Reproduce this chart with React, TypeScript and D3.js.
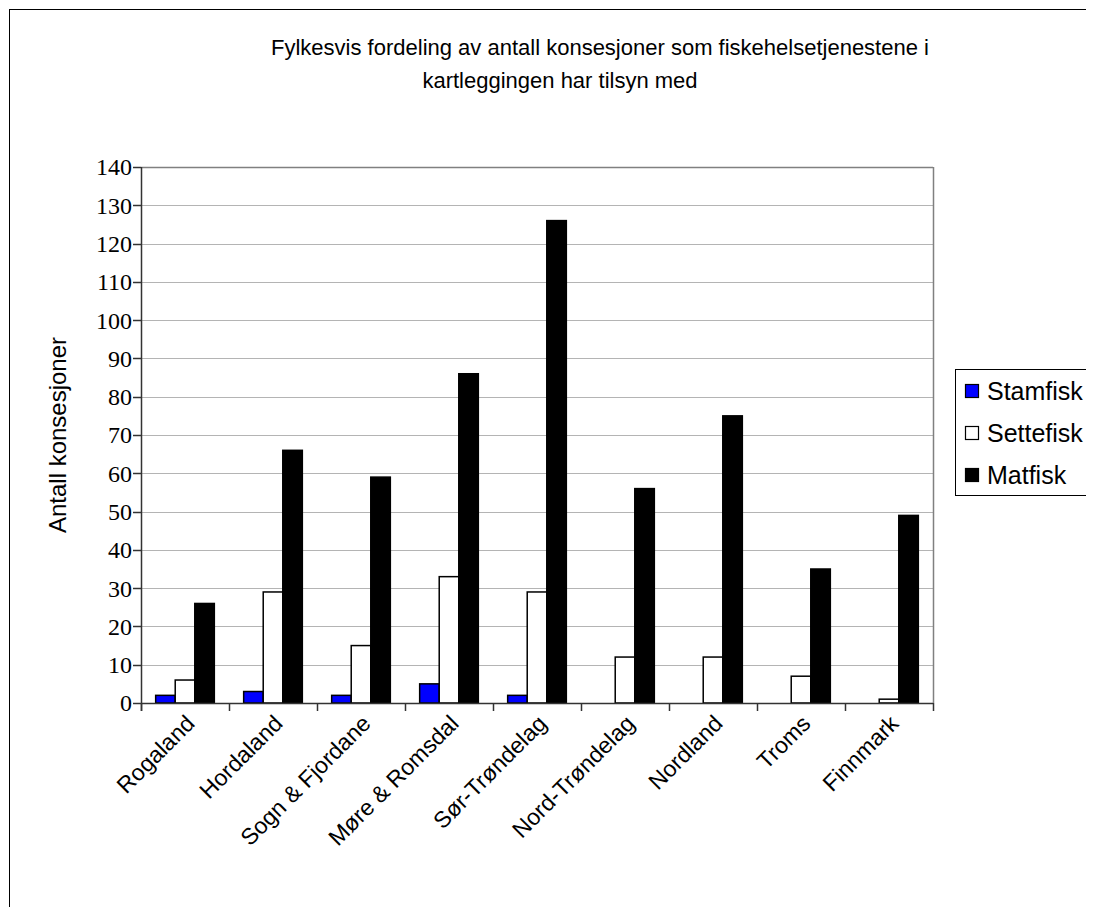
import React from "react";
import * as d3 from "d3";

const categories = [
  "Rogaland",
  "Hordaland",
  "Sogn & Fjordane",
  "Møre & Romsdal",
  "Sør-Trøndelag",
  "Nord-Trøndelag",
  "Nordland",
  "Troms",
  "Finnmark",
];
const seriesNames = ["Stamfisk", "Settefisk", "Matfisk"];
const stamfisk = [2, 3, 2, 5, 2, 0, 0, 0, 0];
const settefisk = [6, 29, 15, 33, 29, 12, 12, 7, 1];
const matfisk = [26, 66, 59, 86, 126, 56, 75, 35, 49];
const seriesColors = ["#0000FF", "#FFFFFF", "#000000"];
const yTicks = [0, 10, 20, 30, 40, 50, 60, 70, 80, 90, 100, 110, 120, 130, 140];
const titleLines = [
  "Fylkesvis fordeling av antall konsesjoner som fiskehelsetjenestene i",
  "kartleggingen har tilsyn med",
];
const yTitle = "Antall konsesjoner";

const seriesValues = [stamfisk, settefisk, matfisk];

export default function App() {
  const left = 141, right = 933, top = 167, bottom = 703;
  const x = d3.scaleBand<string>().domain(categories).range([left, right]).paddingInner(1 / 3).paddingOuter(1 / 6);
  const xs = d3.scaleBand<string>().domain(seriesNames).range([0, x.bandwidth()]).padding(0);
  const y = d3.scaleLinear().domain([0, 140]).range([bottom, top]);
  const step = x.step();
  const sans = "Arial, 'Liberation Sans', sans-serif";
  const serif = "'Times New Roman', 'Liberation Serif', serif";
  const titleX = [600, 560];

  return (
    <svg width={1086} height={899} style={{ display: "block" }}>
      <g transform="translate(-8,-8)">
        <rect x={8} y={8} width={1086} height={899} fill="#fff" />
        <line x1={9.5} y1={9} x2={9.5} y2={907} stroke="#000" strokeWidth={1} />
        <line x1={9} y1={9.5} x2={1094} y2={9.5} stroke="#000" strokeWidth={1} />
        {titleLines.map((t, i) => (
          <text key={i} x={titleX[i]} y={55 + i * 33} textAnchor="middle" fontFamily={sans} fontSize={22} fill="#000">
            {t}
          </text>
        ))}
        {/* gridlines */}
        {yTicks.filter((v) => v > 0 && v < 140).map((v) => (
          <line key={v} x1={left} x2={right} y1={Math.round(y(v)) + 0.5} y2={Math.round(y(v)) + 0.5} stroke="#b4b4b4" strokeWidth={1} />
        ))}
        {/* plot border top/right */}
        <line x1={left} x2={right} y1={top + 0.5} y2={top + 0.5} stroke="#808080" strokeWidth={1.5} />
        <line x1={right + 0.5} x2={right + 0.5} y1={top} y2={bottom} stroke="#808080" strokeWidth={1.5} />
        {/* bars */}
        {categories.map((c, ci) => (
          <g key={c}>
            {seriesNames.map((s, si) => {
              const v = seriesValues[si][ci];
              if (v <= 0) return null;
              const bx = (x(c) as number) + (xs(s) as number);
              return (
                <rect key={s} x={bx} y={y(v)} width={xs.bandwidth()} height={bottom - y(v)} fill={seriesColors[si]} stroke="#000" strokeWidth={1.5} />
              );
            })}
          </g>
        ))}
        {/* y axis */}
        <line x1={left + 0.5} x2={left + 0.5} y1={top} y2={bottom + 8} stroke="#333" strokeWidth={1.5} />
        {yTicks.map((v) => (
          <g key={v}>
            <line x1={left - 8} x2={left} y1={Math.round(y(v)) + 0.5} y2={Math.round(y(v)) + 0.5} stroke="#333" strokeWidth={1.5} />
            <text x={left - 9} y={y(v)} dy="0.35em" textAnchor="end" fontFamily={serif} fontSize={24} fill="#000">
              {v}
            </text>
          </g>
        ))}
        {/* x axis */}
        <line x1={left} x2={right} y1={bottom + 0.5} y2={bottom + 0.5} stroke="#333" strokeWidth={1.5} />
        {d3.range(categories.length + 1).map((i) => (
          <line key={i} x1={left + i * step + 0.5} x2={left + i * step + 0.5} y1={bottom} y2={bottom + 8} stroke="#333" strokeWidth={1.5} />
        ))}
        {categories.map((c) => {
          const cx = (x(c) as number) + x.bandwidth() / 2;
          return (
            <text key={c} transform={`translate(${cx + 11},${bottom + 22}) rotate(-45)`} textAnchor="end" fontFamily={sans} fontSize={23} fill="#000">
              {c}
            </text>
          );
        })}
        {/* y title */}
        <text transform={`translate(66,${(top + bottom) / 2}) rotate(-90)`} textAnchor="middle" fontFamily={sans} fontSize={24} fill="#000">
          {yTitle}
        </text>
        {/* legend */}
        <rect x={955.5} y={369.5} width={160} height={126} fill="#fff" stroke="#000" strokeWidth={1} />
        {seriesNames.map((s, i) => {
          const cy = 391 + i * 42;
          return (
            <g key={s}>
              <rect x={965.5} y={cy - 6.5} width={13} height={13} fill={seriesColors[i]} stroke="#000" strokeWidth={1.2} />
              <text x={987} y={cy} dy="0.36em" fontFamily={sans} fontSize={25} fill="#000">
                {s}
              </text>
            </g>
          );
        })}
      </g>
    </svg>
  );
}
